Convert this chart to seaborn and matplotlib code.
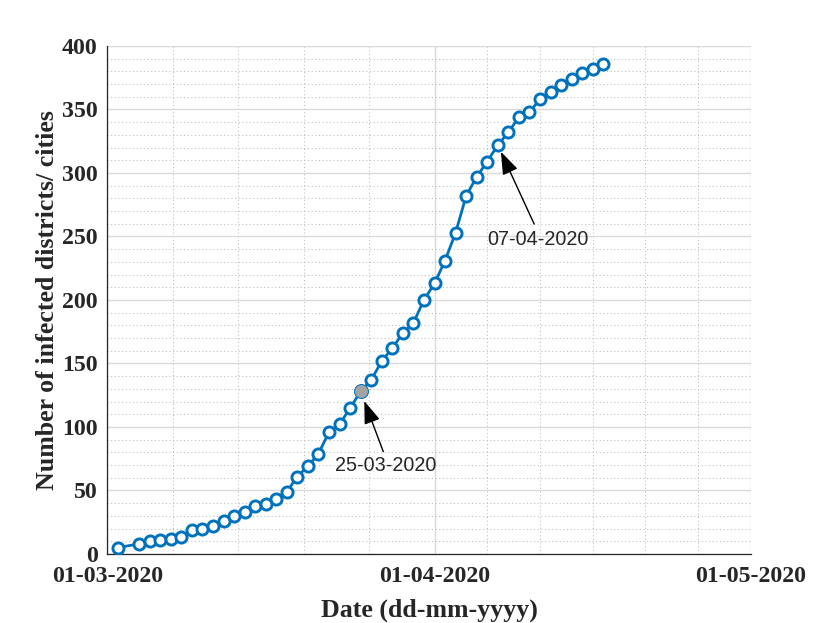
import numpy as np
import pandas as pd
import matplotlib
matplotlib.use("Agg")
import matplotlib.pyplot as plt
import matplotlib.dates as mdates
from matplotlib.ticker import FixedLocator, MultipleLocator
import seaborn as sns

# data
dates = ["2020-03-02",
         "2020-03-04", "2020-03-05", "2020-03-06", "2020-03-07", "2020-03-08",
         "2020-03-09", "2020-03-10", "2020-03-11", "2020-03-12", "2020-03-13",
         "2020-03-14", "2020-03-15", "2020-03-16", "2020-03-17", "2020-03-18",
         "2020-03-19", "2020-03-20", "2020-03-21", "2020-03-22", "2020-03-23",
         "2020-03-24", "2020-03-25", "2020-03-26", "2020-03-27", "2020-03-28",
         "2020-03-29", "2020-03-30", "2020-03-31", "2020-04-01", "2020-04-02",
         "2020-04-03", "2020-04-04", "2020-04-05", "2020-04-06", "2020-04-07",
         "2020-04-08", "2020-04-09", "2020-04-10", "2020-04-11", "2020-04-12",
         "2020-04-13", "2020-04-14", "2020-04-15", "2020-04-16", "2020-04-17"]
infected = [5,
            8, 10, 11, 12, 13,
            19, 20, 22, 26, 30,
            33, 38, 39, 43, 49,
            61, 69, 79, 96, 102,
            115, 128, 137, 152, 162,
            174, 182, 200, 213, 231,
            253, 282, 297, 309, 322,
            332, 344, 348, 358, 364,
            369, 374, 379, 382, 386]
highlight_date = "2020-03-25"
note_dates = ["2020-03-25", "2020-04-07"]
x_ticks = ["2020-03-01", "2020-04-01", "2020-05-01"]

df = pd.DataFrame({"date": pd.to_datetime(dates), "count": infected})
hl = df[df["date"] == pd.Timestamp(highlight_date)]

sns.set_style("white")
plt.rcParams["font.family"] = ["Liberation Serif", "DejaVu Serif"]

fig = plt.figure(figsize=(8.3, 6.23), dpi=100)
ax = fig.add_axes([0.1295, 0.1108, 0.7753, 0.8154])

blue = "#0072BD"
sns.lineplot(data=df, x="date", y="count", ax=ax, color=blue, linewidth=2.0,
             marker="o", markersize=8.0, markerfacecolor="white",
             markeredgecolor=blue, markeredgewidth=2.1, zorder=3)
sns.scatterplot(data=hl, x="date", y="count", ax=ax, s=100, color="#A3A3A3",
                edgecolor=blue, linewidth=0.7, zorder=4)

# axes limits and ticks
xt = mdates.date2num(pd.to_datetime(x_ticks))
ax.set_xlim(xt[0], xt[-1])
ax.set_ylim(0, 400)
ax.xaxis.set_major_locator(FixedLocator(xt))
ax.xaxis.set_major_formatter(mdates.DateFormatter("%d-%m-%Y"))
minor_x = list(xt[0] + (xt[1] - xt[0]) / 5 * np.arange(1, 5)) + \
          list(xt[1] + 5 * np.arange(1, 6))
ax.xaxis.set_minor_locator(FixedLocator(minor_x))
ax.yaxis.set_major_locator(MultipleLocator(50))
ax.yaxis.set_minor_locator(MultipleLocator(10))

ax.grid(which="major", color="#DADADA", linewidth=1.0, linestyle="-")
ax.grid(which="minor", color="#BDBDBD", linewidth=0.75, linestyle=(0, (1, 2.5)))
ax.set_axisbelow(True)

for s in ["top", "right"]:
    ax.spines[s].set_visible(False)
for s in ["left", "bottom"]:
    ax.spines[s].set_color("#262626")
    ax.spines[s].set_linewidth(0.9)

ax.tick_params(which="major", direction="in", length=5, width=0.9,
               color="#262626", labelsize=17.2, labelcolor="#262626")
ax.tick_params(which="minor", length=0)
ax.tick_params(axis="x", pad=9)
ax.tick_params(axis="y", pad=7)
for lab in ax.get_xticklabels() + ax.get_yticklabels():
    lab.set_fontweight("bold")

ax.set_xlabel("Date (dd-mm-yyyy)", fontsize=18.6, fontweight="bold", color="#262626")
ax.set_ylabel("Number of infected districts/ cities", fontsize=18.6,
              fontweight="bold", color="#262626")
ax.xaxis.set_label_coords(0.5, -0.088)
ax.yaxis.set_label_coords(-0.075, 0.5)

# annotations
offsets = [((16.3, -43.4), (18.2, -53.7), 7.4),
           ((26.2, -56.9), (28.9, -67.7), 5.3)]
for d, (tail, txt, shrink) in zip(note_dates, offsets):
    y = df.loc[df["date"] == pd.Timestamp(d), "count"].iloc[0]
    xd = mdates.date2num(pd.Timestamp(d))
    ax.annotate("", xy=(xd, y), xytext=tail, textcoords="offset points",
                arrowprops=dict(arrowstyle="-|>,head_length=1.4,head_width=0.5",
                                color="black", lw=1.0, shrinkA=0, shrinkB=shrink,
                                mutation_scale=10), zorder=5)
    ax.annotate(pd.Timestamp(d).strftime("%d-%m-%Y"), xy=(xd, y), xytext=txt,
                textcoords="offset points", ha="center", va="center",
                fontsize=14.2, family=["Liberation Sans", "DejaVu Sans"], zorder=5)

fig.savefig("out.png", dpi=100)
